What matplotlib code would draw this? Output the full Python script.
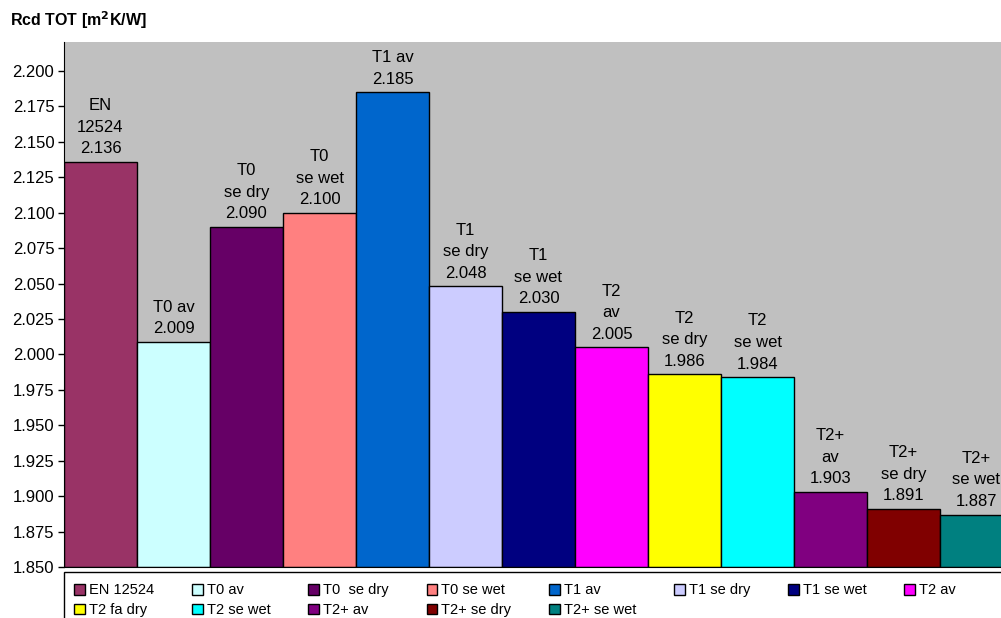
import numpy as np
import matplotlib.pyplot as plt
from matplotlib.patches import Patch, Rectangle

plt.rcParams['font.family'] = ['Liberation Sans', 'DejaVu Sans']

# series names (legend) and values
names = ['EN 12524', 'T0 av', 'T0  se dry', 'T0 se wet', 'T1 av', 'T1 se dry',
         'T1 se wet', 'T2 av', 'T2 fa dry', 'T2 se wet', 'T2+ av', 'T2+ se dry',
         'T2+ se wet']
labels = ['EN\n12524', 'T0 av', 'T0\nse dry', 'T0\nse wet', 'T1 av', 'T1\nse dry',
          'T1\nse wet', 'T2\nav', 'T2\nse dry', 'T2\nse wet', 'T2+\nav', 'T2+\nse dry',
          'T2+\nse wet']
values = [2.136, 2.009, 2.090, 2.100, 2.185, 2.048, 2.030, 2.005, 1.986, 1.984,
          1.903, 1.891, 1.887]
colors = ['#993366', '#CCFFFF', '#660066', '#FF8080', '#0066CC', '#CCCCFF',
          '#000080', '#FF00FF', '#FFFF00', '#00FFFF', '#800080', '#800000',
          '#008080']

fig = plt.figure(figsize=(10.01, 6.18), dpi=100)
ax = fig.add_axes([64 / 1001, 51 / 618, 949 / 1001, 525 / 618])
ax.set_facecolor('#C0C0C0')

base = 1.85
x = np.arange(len(values))
ax.bar(x, np.array(values) - base, bottom=base, width=1.0, color=colors,
       edgecolor='black', linewidth=1.0, align='edge')

for xi, v, lab in zip(x, values, labels):
    ax.annotate(f'{lab}\n{v:.3f}', (xi + 0.5, v), xytext=(0, 4),
                textcoords='offset points', ha='center', va='bottom',
                fontsize=12, linespacing=1.55, annotation_clip=False)

ax.set_xlim(0, len(values))
ax.set_ylim(base, 2.2205)
ticks = np.arange(1.85, 2.2001, 0.025)
ax.set_yticks(ticks)
ax.set_yticklabels([f'{t:.3f}' for t in ticks], fontsize=12)
ax.set_xticks([])
ax.tick_params(axis='y', direction='out', length=4, width=1, pad=3)
for s in ['top', 'right']:
    ax.spines[s].set_visible(False)

fig.text(10 / 1001, 1 - 20 / 618, r'Rcd TOT [m$^\mathbf{2}$K/W]', fontsize=11.5,
         fontweight='bold', va='center', ha='left')

# legend box runs off the right and bottom edges
fig.add_artist(Rectangle((64 / 1001, -0.05), 1.0, 1 - 572 / 618 + 0.05,
                         transform=fig.transFigure, facecolor='white',
                         edgecolor='black', linewidth=1.0, clip_on=False))

# legend filled row by row: reorder for matplotlib's column-major fill
order = [0, 8, 1, 9, 2, 10, 3, 11, 4, 12, 5, 6, 7]
handles = [Patch(facecolor=colors[i], edgecolor='black', linewidth=1.0) for i in order]
leg = fig.legend(handles, [names[i] for i in order], ncol=8, loc='upper left',
                 bbox_to_anchor=(70 / 1001, 1 - 579 / 618, 890 / 1001, 0.0),
                 mode='expand', fontsize=10.5, frameon=False,
                 handlelength=0.75, handleheight=0.75, handletextpad=0.25,
                 borderpad=0.3, labelspacing=0.4, borderaxespad=0)

fig.savefig('out.png', dpi=100)
